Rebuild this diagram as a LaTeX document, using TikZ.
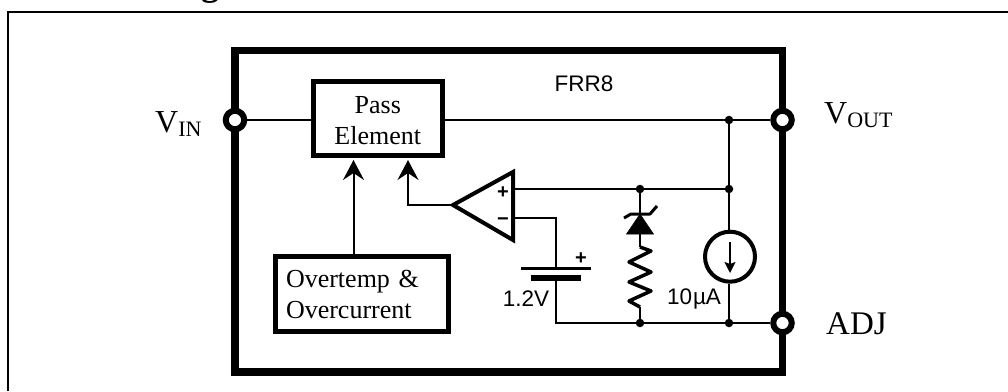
\documentclass[tikz,border=0pt]{standalone}
\usepackage{fontspec}
\setmainfont{Liberation Serif}
\setsansfont{Liberation Sans}
\usetikzlibrary{positioning, arrows.meta}
\newcommand{\pintext}[2]{#1\raisebox{-4.5pt}{\fontsize{22}{22}\selectfont #2}}

\begin{document}
\begin{tikzpicture}
    [
        x=1pt, y=1pt, on grid, inner sep=0pt,
        wire/.style={line width=1.8pt, color=black},
        arrow_wire/.style={line width=2pt, color=black, -{Stealth[length=20pt, width=21pt, inset=7pt]}},
        pin_node/.style={circle, draw=black, fill=white, line width=6pt, minimum size=18.5pt},
        dot_node/.style={circle, fill=black, minimum size=8.5pt},
        block_node/.style={rectangle, draw=black, line width=5pt, font=\fontsize{26}{31}\selectfont},
        pin_label/.style={anchor=base west, font=\fontsize{32}{32}\selectfont},
        chip_label/.style={font=\sffamily\fontsize{22.5}{22.5}\selectfont},
        sign_label/.style={font=\sffamily\bfseries\fontsize{20}{20}\selectfont},
    ]
        \useasboundingbox (0,0) rectangle (1008,-391);
        \node[anchor=base, font=\bfseries\fontsize{36}{36}\selectfont] (title) at (210,5) {g};
        \draw[line width=2pt] (8,-391) -- (8,-11.5) -- (1008,-11.5);
        \draw[line width=7.5pt] (235,-50.5) rectangle (782.5,-372);
        % pins and blocks
        \node[pin_node] (vin) at (235,-120) {};
        \node[pin_node] (vout) [right = 547.5pt of vin] {};
        \node[pin_node] (adj) [below = 203pt of vout] {};
        \node[block_node, minimum width=128.5pt, minimum height=74pt, align=center] (pass) at (377.75,-118) {\rule{0pt}{23pt}Pass\\Element};
        \node[block_node, minimum width=173pt, minimum height=75pt, align=left, text width=151pt] (over) at (361.5,-294) {Overtemp \&\\Overcurrent};
        \node[pin_label] (vinlabel) at (155,-132) {\pintext{V}{IN}};
        \node[pin_label] (voutlabel) at (824,-123) {\pintext{V}{OUT}};
        \node[pin_label, font=\fontsize{33}{33}\selectfont] (adjlabel) at (826,-334) {ADJ};
        \node[chip_label] (chip) at (584,-84) {FRR8};
        % junctions
        \node[dot_node] (d1) at (729,-120) {};
        \node[dot_node] (d2) [below = 69pt of d1] {};
        \node[dot_node] (d3) [left = 89pt of d2] {};
        \node[dot_node] (d4) at (729,-323) {};
        \node[dot_node] (d5) [left = 89pt of d4] {};
        % amplifier
        \coordinate (amptip) at (453,-205);
        \coordinate (ampplus) at (513,-189);
        \coordinate (ampminus) at (513,-218);
        \draw[line width=4pt, line join=miter] (amptip) -- (513,-172) -- (513,-240) -- cycle;
        \node[sign_label] (plus) at (503,-192.5) {+};
        \node[sign_label] (minus) at (503,-221.5) {\textminus};
        % battery
        \coordinate (batlong) at (556,-268);
        \coordinate (batshort) at (556,-278);
        \draw[line width=3pt] (521,-268) -- (591,-268);
        \draw[line width=6pt] (531,-278) -- (581,-278);
        \node[sign_label] (batplus) at (581,-259) {+};
        \node[chip_label] (batlabel) at (526,-299) {1.2V};
        % zener and resistor
        \coordinate (zentop) at (640,-214);
        \coordinate (zenbase) at (640,-234);
        \coordinate (restop) at (640,-247);
        \coordinate (resbot) at (640,-307);
        \draw[fill=black, line width=0.5pt] (zentop) -- (653.5,-234) -- (626.5,-234) -- cycle;
        \draw[line width=3pt, line join=round] (624,-218) -- (631,-214) -- (650,-214) -- (657,-206);
        \draw[line width=3.5pt, line join=round] (restop) -- (651,-251) -- (629,-262) -- (651,-272) -- (629,-282) -- (651,-291) -- (629,-301) -- (resbot);
        % current source
        \node[circle, draw=black, line width=4pt, minimum size=50pt] (src) at (730,-256.7) {};
        \node[chip_label] (srclabel) at (694,-299) {10\kern1pt\textmu A};
        \coordinate (srctop) at (730,-242);
        \coordinate (srcbot) at (730,-273);
        \draw[wire, -{Stealth[length=11pt, width=11pt, inset=2pt]}] (srctop) -- (srcbot);
        % wires
        \coordinate (passin1) at (353.5,-160);
        \coordinate (passin2) at (408,-160);
        \draw[wire] (vin) -- (vin -| pass.west);
        \draw[wire] (vin -| pass.east) -- (d1);
        \draw[wire] (d1) -- (vout);
        \draw[wire] (d1) -- (d2);
        \draw[wire] (d2) -- (d2 |- src.north);
        \draw[wire] (d4 |- src.south) -- (d4);
        \draw[wire] (ampplus) -- (d3);
        \draw[wire] (d3) -- (d2);
        \draw[wire] (d3) -- (zentop);
        \draw[wire] (zenbase) -- (restop);
        \draw[wire] (resbot) -- (d5);
        \draw[wire] (ampminus) -| (batlong);
        \draw[wire] (batshort) |- (d5);
        \draw[wire] (d5) -- (d4);
        \draw[wire] (d4) -- (adj);
        \draw[arrow_wire] (amptip) -| (passin2);
        \draw[arrow_wire] (over.north -| passin1) -- (passin1);
    \end{tikzpicture}
\end{document}
